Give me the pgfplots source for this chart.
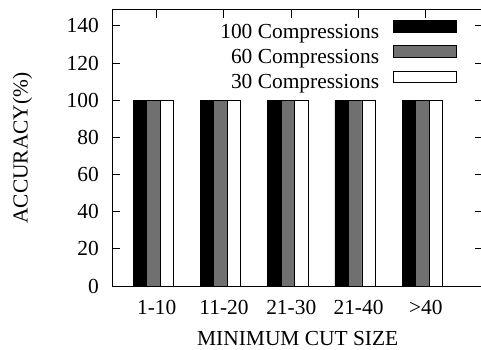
\documentclass[border=0pt]{standalone}
\usepackage{fontspec}
\setmainfont{Liberation Serif}
\usepackage{pgfplots}
\pgfplotsset{compat=1.18}
\definecolor{bargray}{HTML}{707070}
\begin{document}
\begin{tikzpicture}
\begin{axis}[
  scale only axis, width=370.5bp, height=276bp,
  xmin=-0.657, xmax=4.85, ymin=0, ymax=148.6,
  xtick={0,1,2,3,4}, xticklabels={1-10,11-20,21-30,21-40,>40},
  ytick={0,20,...,140},
  tick align=inside, major tick length=8bp,
  tick style={line width=1bp, black},
  axis line style={line width=1bp},
  /pgf/number format/assume math mode=true,
  tick label style={font=\fontsize{21.5}{25}\selectfont},
  yticklabel style={anchor=east, inner sep=0pt, xshift=-13.5bp},
  xticklabel style={anchor=north, inner sep=0pt, yshift=-14bp},
  xlabel={MINIMUM CUT SIZE},
  ylabel={ACCURACY(\%)},
  label style={font=\fontsize{21.5}{25}\selectfont, inner sep=0pt},
  xlabel style={at={(axis description cs:0.5,-0.2156)}, anchor=base},
  ylabel style={at={(axis description cs:-0.2294,0.5)}, anchor=base, rotate=0},
  legend plot pos=right, legend cell align=right,
  legend style={draw=none, fill=none, at={(axis description cs:0.9306,0.9638)}, anchor=north east,
    inner sep=0pt, outer sep=0pt, row sep=2.2bp, column sep=14.3bp,
    nodes={inner sep=0pt, text height=15bp, text depth=5bp, font=\fontsize{21.5}{25}\selectfont}},
]
\addplot[ybar, bar width=0.2, bar shift=-0.25, fill=black, draw=black, line width=0.8bp,
  legend image code/.code={\draw[fill=black,draw=black,line width=0.8bp] (0bp,1bp) rectangle (63bp,12.7bp);}]
  coordinates {(0,100) (1,100) (2,100) (3,100) (4,100)};
\addlegendentry{100 Compressions}
\addplot[ybar, bar width=0.2, bar shift=-0.05, fill=bargray, draw=black, line width=0.8bp,
  legend image code/.code={\draw[fill=bargray,draw=black,line width=0.8bp] (0bp,1bp) rectangle (63bp,12.7bp);}]
  coordinates {(0,100) (1,100) (2,100) (3,100) (4,100)};
\addlegendentry{60 Compressions}
\addplot[ybar, bar width=0.2, bar shift=0.15, fill=white, draw=black, line width=0.8bp,
  legend image code/.code={\draw[fill=white,draw=black,line width=0.8bp] (0bp,1bp) rectangle (63bp,12.7bp);}]
  coordinates {(0,100) (1,100) (2,100) (3,100) (4,100)};
\addlegendentry{30 Compressions}
\end{axis}
\pgfresetboundingbox
\useasboundingbox ([shift={(-112.5bp,-64bp)}]current axis.south west) rectangle ++(481bp,350bp);
\end{tikzpicture}
\end{document}
